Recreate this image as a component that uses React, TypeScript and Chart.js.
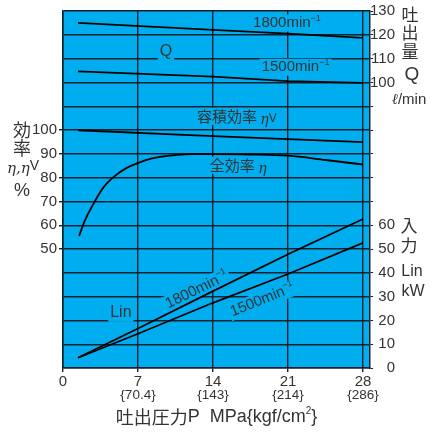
import React, { useEffect, useRef } from 'react';
import { Chart, registerables } from 'chart.js';

Chart.register(...registerables);

// ---------- data ----------
const xTicks = [0, 7, 14, 21, 28];
const xSubLabels = ['', '{70.4}', '{143}', '{214}', '{286}'];

// discharge Q (ℓ/min)
const qX = [1.4, 14, 21, 28];
const q1800 = [125.0, 122.1, 120.5, 118.7];
const q1500 = [104.6, 102.4, 100.5, 99.8];

// volumetric efficiency ηv (%)
const effVX = [1.4, 14, 28];
const effV = [99.9, 97.4, 94.9];

// overall efficiency η (%)
const effX = [1.5, 2.05, 2.83, 3.76, 4.85, 5.95, 7.03, 8.12, 9.05, 12, 14, 17.5, 21, 24.5, 28];
const eff = [55.5, 62.0, 68.9, 75.8, 80.7, 84.1, 86.2, 87.9, 88.7, 89.9, 89.9, 89.7, 89.2, 87.4, 85.5];

// input power Lin (kW)
const linX = [1.4, 7, 14, 21, 28];
const lin1800 = [4.3, 16.6, 32.3, 47.8, 62.6];
const lin1500 = [4.3, 14.4, 27.4, 39.5, 52.6];

const effLabelMin = 50;
const effLabelMax = 100;
const kwLabelMax = 60;
const qAxisOffset = -20; // Q axis minimum (Q 100 sits at the 120 grid line)
const qLabelStart = 120;

// ---------- style ----------
const FONT = '"Liberation Sans", "Noto Sans CJK JP", sans-serif';
const CJK = '"Noto Sans CJK JP", "Liberation Sans", sans-serif';
const SERIF = '"DejaVu Serif", "Liberation Serif", serif';
const BLUE = '#00AEEF';
const TEXT = '#333333';
const GRID = '#13202e';

type Part = { t: string; size: number; dy?: number; italic?: boolean; family?: string };

function fontOf(p: Part) {
  return `${p.italic ? 'italic ' : ''}${p.size}px ${p.family || FONT}`;
}

function drawRich(
  ctx: CanvasRenderingContext2D,
  parts: Part[],
  cx: number,
  cy: number,
  align: 'center' | 'left',
  angle = 0,
  bg = true
) {
  ctx.save();
  ctx.translate(cx, cy);
  ctx.rotate((angle * Math.PI) / 180);
  let w = 0;
  let h = 0;
  for (const p of parts) {
    ctx.font = fontOf(p);
    w += ctx.measureText(p.t).width;
    h = Math.max(h, p.size);
  }
  const x0 = align === 'center' ? -w / 2 : 0;
  if (bg) {
    ctx.fillStyle = BLUE;
    ctx.fillRect(x0 - 2, -h / 2 - 1, w + 4, h + 2);
  }
  ctx.textBaseline = 'middle';
  ctx.textAlign = 'left';
  ctx.fillStyle = TEXT;
  let x = x0;
  for (const p of parts) {
    ctx.font = fontOf(p);
    ctx.fillText(p.t, x, p.dy || 0);
    x += ctx.measureText(p.t).width;
  }
  ctx.restore();
}

// in-plot annotations, in data coordinates (x: MPa, y: left % scale)
type Note = { parts: Part[]; x: number; y: number; align: 'center' | 'left'; angle?: number };
const notes: Note[] = [
  { parts: [{ t: 'Q', size: 16 }], x: 9.6, y: 133, align: 'center' },
  {
    parts: [{ t: '1800min', size: 15 }, { t: '−1', size: 9, dy: -5 }],
    x: 20.9, y: 144.9, align: 'center',
  },
  {
    parts: [{ t: '1500min', size: 15 }, { t: '−1', size: 9, dy: -5 }],
    x: 21.7, y: 126.4, align: 'center',
  },
  {
    parts: [
      { t: '容積効率 ', size: 15, family: CJK },
      { t: 'η', size: 14, italic: true, family: SERIF, dy: 4 },
      { t: 'V', size: 12, dy: 2 },
    ],
    x: 12.5, y: 105.7, align: 'left',
  },
  {
    parts: [
      { t: '全効率 ', size: 15, family: CJK },
      { t: 'η', size: 14, italic: true, family: SERIF, dy: 4 },
    ],
    x: 13.7, y: 85.2, align: 'left',
  },
  { parts: [{ t: 'Lin', size: 16 }], x: 5.4, y: 23.2, align: 'center' },
  {
    parts: [{ t: '1800min', size: 15 }, { t: '−1', size: 9, dy: -5 }],
    x: 12.5, y: 32.8, align: 'center', angle: -26,
  },
  {
    parts: [{ t: '1500min', size: 15 }, { t: '−1', size: 9, dy: -5 }],
    x: 18.6, y: 28.6, align: 'center', angle: -22,
  },
];

const notesPlugin = {
  id: 'notes',
  beforeDraw(chart: any) {
    const ctx = chart.ctx as CanvasRenderingContext2D;
    const a = chart.chartArea;
    ctx.save();
    ctx.fillStyle = BLUE;
    ctx.fillRect(a.left, a.top, a.right - a.left, a.bottom - a.top);
    ctx.restore();
  },
  beforeDatasetsDraw(chart: any) {
    const ctx = chart.ctx as CanvasRenderingContext2D;
    const xs = chart.scales.x;
    const ys = chart.scales.y;
    for (const n of notes) {
      drawRich(ctx, n.parts, xs.getPixelForValue(n.x), ys.getPixelForValue(n.y), n.align, n.angle || 0, true);
    }
  },
  afterDraw(chart: any) {
    const ctx = chart.ctx as CanvasRenderingContext2D;
    const xs = chart.scales.x;
    const area = chart.chartArea;
    // sub labels {kgf/cm2}
    xTicks.forEach((v, i) => {
      if (!xSubLabels[i]) return;
      drawRich(ctx, [{ t: xSubLabels[i], size: 13.5 }], xs.getPixelForValue(v), area.bottom + 27, 'center', 0, false);
    });
    // x title
    drawRich(
      ctx,
      [
        { t: '吐出圧力', size: 18, family: CJK },
        { t: 'P  MPa{kgf/cm', size: 18 },
        { t: '2', size: 10, dy: -6 },
        { t: '}', size: 18 },
      ],
      (area.left + area.right) / 2 + 0,
      area.bottom + 49,
      'center',
      0,
      false
    );
    // left title
    const lx = area.left - 41;
    drawRich(ctx, [{ t: '効', size: 18, family: CJK }], lx, 130, 'center', 0, false);
    drawRich(ctx, [{ t: '率', size: 18, family: CJK }], lx, 148, 'center', 0, false);
    drawRich(
      ctx,
      [
        { t: 'η,η', size: 15, italic: true, family: SERIF, dy: 2 },
        { t: 'V', size: 14, dy: -1 },
      ],
      lx + 1,
      167,
      'center',
      0,
      false
    );
    drawRich(ctx, [{ t: '%', size: 18 }], lx, 191, 'center', 0, false);
    // right titles
    const rx = area.right + 40;
    drawRich(ctx, [{ t: '吐', size: 17, family: CJK }], rx, 14.5, 'center', 0, false);
    drawRich(ctx, [{ t: '出', size: 17, family: CJK }], rx, 33, 'center', 0, false);
    drawRich(ctx, [{ t: '量', size: 17, family: CJK }], rx, 52, 'center', 0, false);
    drawRich(ctx, [{ t: 'Q', size: 19 }], rx + 2, 75, 'center', 0, false);
    drawRich(
      ctx,
      [
        { t: 'ℓ', size: 15, italic: true, family: SERIF },
        { t: '/min', size: 15 },
      ],
      rx - 1,
      100,
      'center',
      0,
      false
    );
    drawRich(ctx, [{ t: '入', size: 17, family: CJK }], rx - 1, 226, 'center', 0, false);
    drawRich(ctx, [{ t: '力', size: 17, family: CJK }], rx - 1, 246, 'center', 0, false);
    drawRich(ctx, [{ t: 'Lin', size: 16 }], rx + 2, 272, 'center', 0, false);
    drawRich(ctx, [{ t: 'kW', size: 16 }], rx + 3, 292, 'center', 0, false);
  },
};

function pts(xs: number[], ys: number[]) {
  return xs.map((x, i) => ({ x, y: ys[i] }));
}

export default function App() {
  const ref = useRef<HTMLCanvasElement | null>(null);

  useEffect(() => {
    if (!ref.current) return;
    const lineStyle = {
      borderColor: '#000000',
      borderWidth: 1.8,
      pointRadius: 0,
      fill: false,
      tension: 0,
    };
    const chart = new Chart(ref.current, {
      type: 'line',
      data: {
        datasets: [
          { label: 'Q 1800', data: pts(qX, q1800), yAxisID: 'yQ', ...lineStyle },
          { label: 'Q 1500', data: pts(qX, q1500), yAxisID: 'yQ', ...lineStyle },
          { label: 'ηv', data: pts(effVX, effV), yAxisID: 'y', ...lineStyle },
          { label: 'η', data: pts(effX, eff), yAxisID: 'y', ...lineStyle, cubicInterpolationMode: 'monotone' },
          { label: 'Lin 1800', data: pts(linX, lin1800), yAxisID: 'yR', ...lineStyle },
          { label: 'Lin 1500', data: pts(linX, lin1500), yAxisID: 'yR', ...lineStyle },
        ] as any,
      },
      options: {
        animation: false,
        responsive: false,
        maintainAspectRatio: false,
        layout: { padding: { top: 6, right: 35, left: 0, bottom: 0 } },
        plugins: { legend: { display: false }, tooltip: { enabled: false } },
        scales: {
          x: {
            type: 'linear',
            min: 0,
            max: 28.65,
            afterBuildTicks: (s: any) => {
              s.ticks = xTicks.map((v) => ({ value: v }));
            },
            afterFit: (s: any) => {
              s.height = 64;
            },
            grid: { color: GRID, lineWidth: 1.4, tickLength: 4, tickColor: GRID },
            border: { color: GRID, width: 1.5 },
            ticks: {
              padding: 1,
              color: TEXT,
              font: { family: FONT, size: 15 },
              maxRotation: 0,
              callback: (v: any) => String(v),
            },
          },
          y: {
            type: 'linear',
            position: 'left',
            min: 0,
            max: 150,
            afterFit: (s: any) => {
              s.width = 63;
            },
            grid: {
              color: GRID,
              lineWidth: 1.4,
              tickLength: 4,
              tickColor: (c: any) =>
                c.tick && c.tick.value >= effLabelMin && c.tick.value <= effLabelMax ? GRID : 'rgba(0,0,0,0)',
            },
            border: { color: GRID, width: 1.5 },
            ticks: {
              stepSize: 10,
              padding: 2,
              color: TEXT,
              font: { family: FONT, size: 15 },
              callback: (v: any) => (v >= effLabelMin && v <= effLabelMax ? String(v) : ''),
            },
          },
          yR: {
            type: 'linear',
            position: 'right',
            min: 0,
            max: 150,
            afterFit: (s: any) => {
              s.width = 25;
            },
            grid: {
              drawOnChartArea: false,
              tickLength: 3,
              tickColor: GRID,
              color: GRID,
            },
            border: { color: GRID, width: 1.5 },
            ticks: {
              stepSize: 10,
              padding: 2,
              crossAlign: 'far',
              color: TEXT,
              font: { family: FONT, size: 15 },
              callback: (v: any) =>
                v <= kwLabelMax ? String(v) : v >= qLabelStart ? String(v + qAxisOffset) : '',
            },
          },
          yQ: {
            type: 'linear',
            display: false,
            min: qAxisOffset,
            max: 150 + qAxisOffset,
          },
        },
      } as any,
      plugins: [notesPlugin],
    });
    return () => chart.destroy();
  }, []);

  return (
    <div style={{ position: 'absolute', left: 0, top: 0, width: 430, height: 432, background: '#ffffff' }}>
      <canvas ref={ref} width={430} height={432} style={{ width: 430, height: 432, display: 'block' }} />
    </div>
  );
}
